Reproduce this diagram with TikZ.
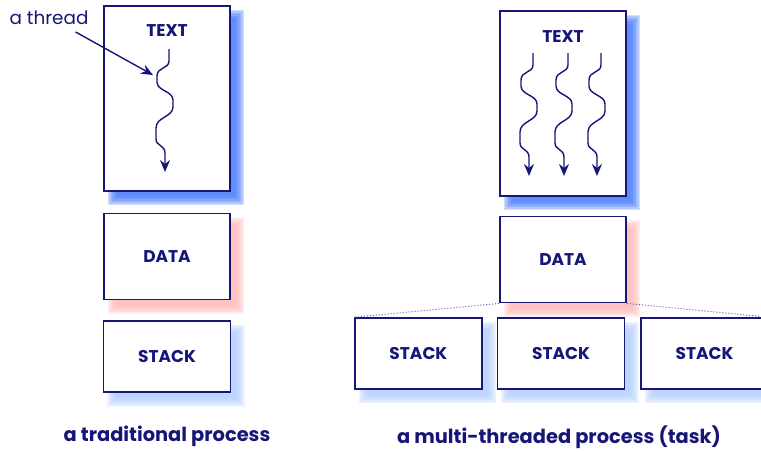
\documentclass[tikz,border=0pt]{standalone}
\usepackage{fontspec}
\setmainfont{Poppins}
\definecolor{navy1}{RGB}{22,22,120}
\definecolor{shadowblue}{RGB}{70,120,250}
\definecolor{shadowpale}{RGB}{178,206,255}
\definecolor{shadowpink}{RGB}{255,182,182}
\usetikzlibrary{arrows.meta, positioning, backgrounds}

% soft offset shadow under a segment box
\newcommand{\segshadow}[2]{%
  \foreach \a/\b in {4.5/13.5, 6/12, 7.5/10.5, 9/9, 10.5/7.5, 12/6, 13.5/4.5}
    \fill[#2, fill opacity=0.24] ([shift={(\a,\a)}]#1.north west) rectangle ([shift={(\b,\b)}]#1.south east);}

\tikzset{
  segbox/.style={draw=navy1, line width=0.8pt, fill=white, inner sep=0pt,
    font=\bfseries\fontsize{8.5}{10}\selectfont, text=navy1},
  textseg/.style={segbox, minimum width=63pt, minimum height=92.5pt},
  dataseg/.style={segbox, minimum width=63pt, minimum height=43pt},
  stackseg/.style={segbox, minimum width=63.5pt, minimum height=35.5pt},
  threadline/.style={draw=navy1, line width=0.7pt, -{Stealth[length=6pt, width=5pt, inset=2pt]}},
  caption/.style={font=\bfseries\fontsize{9.7}{11}\selectfont, text=navy1},
  share/.style={draw=navy1!70, densely dotted, line width=0.5pt},
  pics/thread/.style={code={
    \draw[threadline] (0,0) -- (0,12) .. controls (0,20) and (-12,18) .. (-12,27)
      -- (-12,33) .. controls (-12,42) and (4,42) .. (4,51)
      -- (4,58) .. controls (4,68) and (-13,68) .. (-13,79)
      -- (-13,90) .. controls (-13,97) and (-4,96) .. (-4,104) -- (-4,123);
  }}
}

\begin{document}
\begin{tikzpicture}[x=0.5pt, y=-0.5pt]
  \clip (0,0) rectangle (761,451);

  % traditional process
  \node[textseg] (ltext) at (167,98.5) {};
  \node[dataseg, below=10.5pt of ltext] (ldata) {DATA};
  \node[stackseg, below=10pt of ldata] (lstack) {STACK};
  \node[segbox, draw=none, fill=none] (ltextlbl) at ([yshift=-12.5pt]ltext.north) {TEXT};
  \pic at (169,49) {thread};

  \node[font=\fontsize{9.2}{10}\selectfont, text=navy1] (thrlbl) at (49,18) {a thread};
  \coordinate (thrhit) at (153,75);
  \draw[threadline] ([xshift=-10pt]thrlbl.south east) -- (thrhit);

  % multi-threaded process
  \node[textseg] (rtext) at (563,103.5) {};
  \node[dataseg, below=9.5pt of rtext] (rdata) {DATA};
  \node[stackseg] (stack2) at (561,353.5) {STACK};
  \node[stackseg, left=7pt of stack2] (stack1) {STACK};
  \node[stackseg, right=7.5pt of stack2] (stack3) {STACK};
  \node[segbox, draw=none, fill=none] (rtextlbl) at ([yshift=-13pt]rtext.north) {TEXT};
  \foreach \x in {533,568,601}
    \pic at (\x,53) {thread};

  \draw[share] (rdata.south west) -- (stack1.north west);
  \draw[share] (rdata.south east) -- (stack3.north east);

  \begin{scope}[on background layer]
    \segshadow{ltext}{shadowblue}
    \segshadow{rtext}{shadowblue}
    \segshadow{ldata}{shadowpink}
    \segshadow{rdata}{shadowpink}
    \segshadow{lstack}{shadowpale}
    \segshadow{stack1}{shadowpale}
    \segshadow{stack2}{shadowpale}
    \segshadow{stack3}{shadowpale}
  \end{scope}

  \node[caption] (lcap) at (167,436) {a traditional process};
  \node[caption] (rcap) at (559,437) {a multi-threaded process (task)};
\end{tikzpicture}
\end{document}
